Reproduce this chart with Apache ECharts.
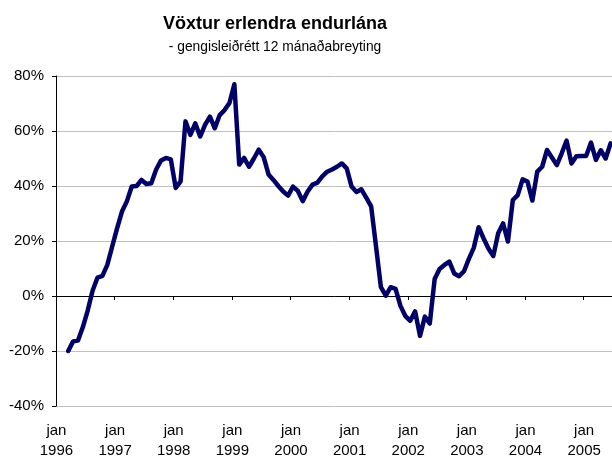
<!DOCTYPE html>
<html>
<head>
<meta charset="utf-8">
<title>Vöxtur erlendra endurlána</title>
<script src="https://cdn.jsdelivr.net/npm/echarts@6/dist/echarts.min.js"></script>
<style>
	html,body{margin:0;padding:0;background:#fff;}
	#main{width:612px;height:457px;}
</style>
</head>
<body>
<div id="main"></div>
<script>
//mánuðir og ár fyrir flokkaásinn
var monthNames = ["jan","feb","mar","apr","maí","jún","júl","ágú","sep","okt","nóv","des"];
var years = [1996,1997,1998,1999,2000,2001,2002,2003,2004,2005];
var lastMonth = 6; //gögn til og með jún 2005

//12 mánaða breyting, % (jan 1996 ... jún 2005), lesið af myndinni
var growth1996 = [null, null, -20, -16.5, -16.2, -11.3, -5.2, 2, 6.7, 7.3, 11.3, 18];
var growth1997 = [24.6, 30.7, 34.4, 39.8, 40, 42.2, 40.7, 41, 46, 49.3, 50.2, 49.7];
var growth1998 = [39.3, 41.7, 63.5, 58.6, 62.8, 58, 62.2, 65.2, 61, 65.8, 67.6, 70.2];
var growth1999 = [77, 47.8, 50.2, 47, 50, 53.2, 50.5, 44.2, 42.2, 40, 38, 36.5];
var growth2000 = [39.8, 38.2, 34.5, 38, 40.5, 41.2, 43.5, 45.2, 46, 47, 48.2, 46.4];
var growth2001 = [39.8, 37.8, 38.8, 35.8, 32.6, 18, 3.2, 0.1, 3.2, 2.6, -3.6, -7.3];
var growth2002 = [-9, -5.6, -14.5, -7.5, -10, 6.2, 9.8, 11.3, 12.5, 8.2, 7.2, 9];
var growth2003 = [13.5, 17.5, 25, 21, 17.3, 14.5, 22.8, 26.4, 19.8, 34.9, 36.7, 42.4];
var growth2004 = [41.6, 34.7, 45.2, 47, 53.1, 50.4, 47.6, 51.9, 56.5, 48.2, 50.8, 50.9];
var growth2005 = [50.9, 55.8, 49.5, 53, 50, 55.5];

var yTicks = [-40, -20, 0, 20, 40, 60, 80];

var months = [];
for (var i = 0; i < years.length; i++) {
	var n = (i == years.length - 1) ? lastMonth : 12;
	for (var m = 0; m < n; m++) {
		months.push(monthNames[m] + " " + years[i]);
	}
}
var values = [].concat(growth1996, growth1997, growth1998, growth1999, growth2000,
	growth2001, growth2002, growth2003, growth2004, growth2005);

var fontName = "'Liberation Sans', Arial, sans-serif";
var isJan = function(index) { return index % 12 == 0; };

var myChart = echarts.init(document.getElementById("main"));
myChart.setOption({
	animation: false,
	backgroundColor: "#fff",
	title: [{
		text: "Vöxtur erlendra endurlána",
		left: 270,
		top: 10,
		textAlign: "center",
		textStyle: {fontFamily: fontName, fontSize: 18, fontWeight: "bold", color: "#000"}
	}, {
		text: "- gengisleiðrétt 12 mánaðabreyting",
		left: 270,
		top: 35,
		textAlign: "center",
		textStyle: {fontFamily: fontName, fontSize: 13.8, fontWeight: "normal", color: "#000"}
	}],
	grid: {
		left: 56,
		right: -1,
		top: 76,
		bottom: 51,
		outerBoundsMode: "none"
	},
	xAxis: [{
		//ásinn á núlllínunni, bara strik
		type: "category",
		data: months,
		boundaryGap: true,
		axisLine: {onZero: true, lineStyle: {color: "#000", width: 1}},
		axisTick: {show: true, length: 4, interval: isJan, lineStyle: {color: "#000"}},
		axisLabel: {show: false},
		splitLine: {show: false}
	}, {
		//merkingar neðst
		type: "category",
		data: months,
		position: "bottom",
		boundaryGap: true,
		axisLine: {show: false, onZero: false},
		axisTick: {show: false},
		splitLine: {show: false},
		axisLabel: {
			interval: isJan,
			margin: 15,
			fontFamily: fontName,
			fontSize: 15,
			lineHeight: 20,
			color: "#000",
			padding: [0, 4, 0, 0],
			formatter: function(v) { return v.replace(" ", "\n"); }
		}
	}],
	yAxis: {
		type: "value",
		min: yTicks[0],
		max: yTicks[yTicks.length - 1],
		interval: 20,
		axisLine: {show: true, lineStyle: {color: "#000", width: 1}},
		axisTick: {show: true, length: 4, lineStyle: {color: "#000"}},
		axisLabel: {
			margin: 12,
			fontFamily: fontName,
			fontSize: 15,
			color: "#000",
			formatter: "{value}%"
		},
		splitLine: {show: true, lineStyle: {color: "#c0c0c0", width: 1}}
	},
	series: [{
		type: "line",
		xAxisIndex: 0,
		data: values,
		showSymbol: false,
		connectNulls: false,
		lineStyle: {color: "#000066", width: 4.5, join: "round", cap: "round"}
	}]
});
</script>
</body>
</html>
